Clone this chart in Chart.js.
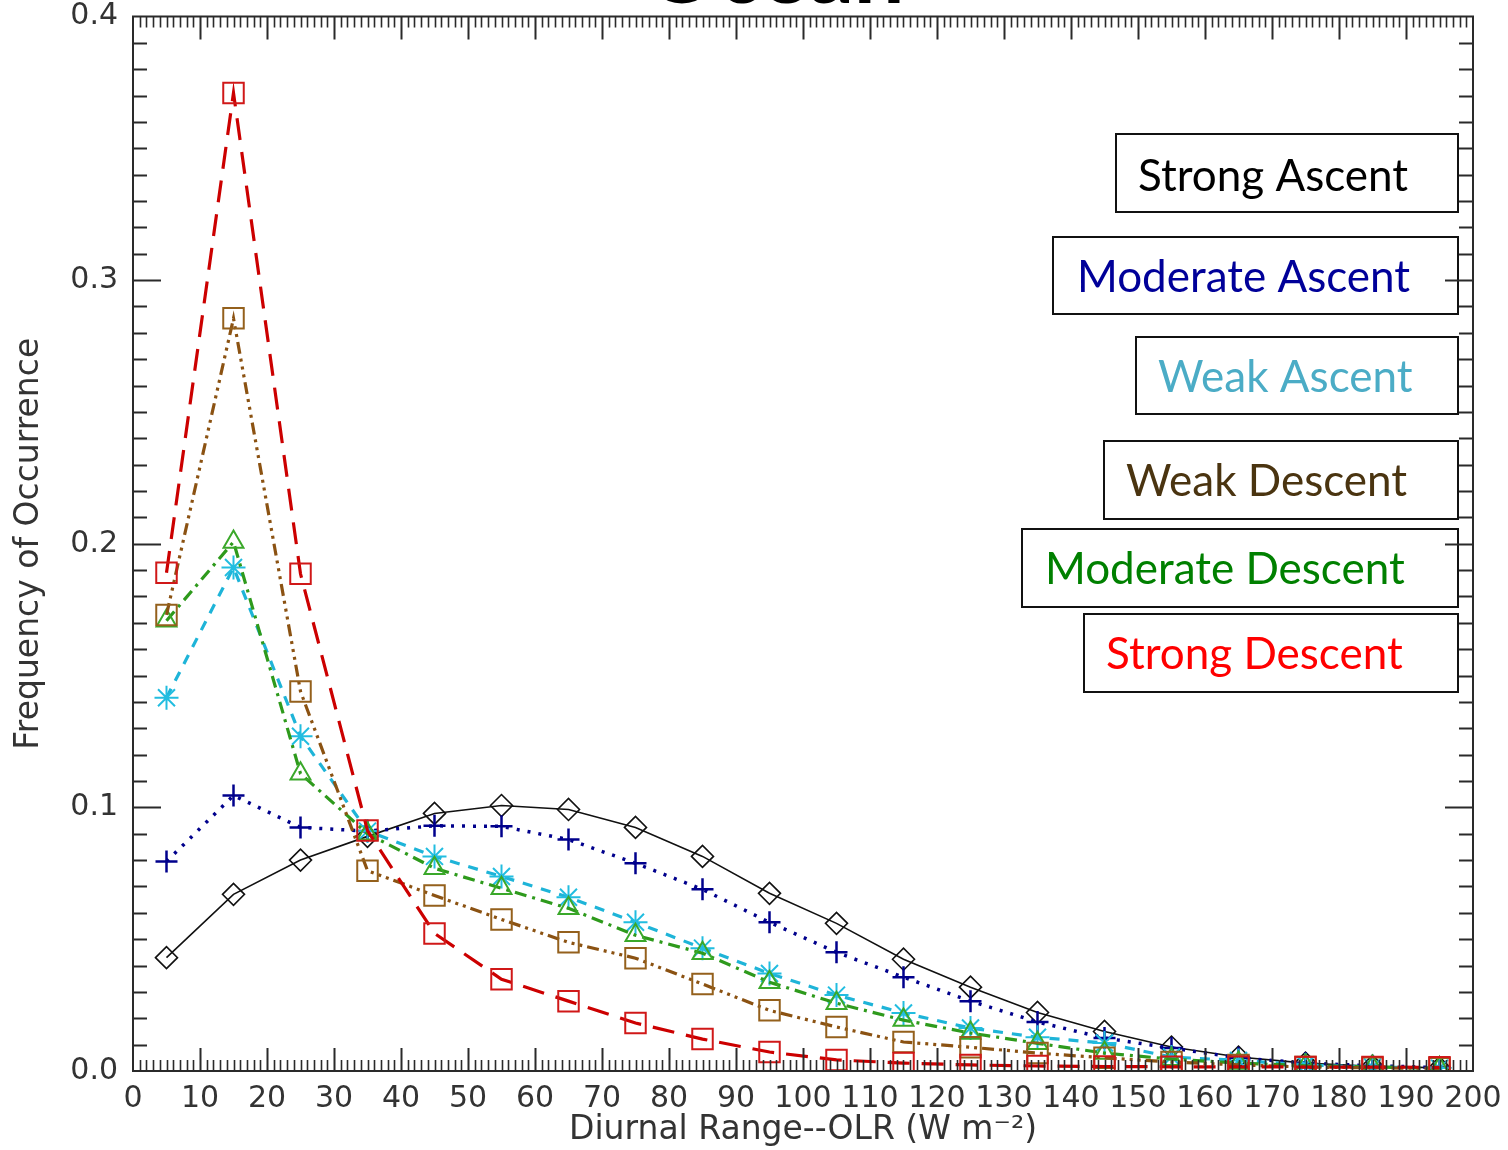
<!DOCTYPE html>
<html>
<head>
<meta charset="utf-8">
<script src="https://cdn.jsdelivr.net/npm/chart.js@4.4.1/dist/chart.umd.min.js"></script>
<style>
  html, body { margin: 0; padding: 0; background: #fff; }
  canvas { display: block; }
</style>
</head>
<body>
<canvas id="c" width="1508" height="1150"></canvas>
<script>
// ---------------- DATA ----------------
const binCenters = [5, 15, 25, 35, 45, 55, 65, 75, 85, 95, 105, 115, 125, 135, 145, 155, 165, 175, 185, 195];

const strongAscent   = [0.0430, 0.0670, 0.0800, 0.0890, 0.0977, 0.1007, 0.0992, 0.0924, 0.0814, 0.0674, 0.0560, 0.0424, 0.0318, 0.0222, 0.0150, 0.0091, 0.0053, 0.0030, 0.0018, 0.0012];
const moderateAscent = [0.0795, 0.1045, 0.0924, 0.0910, 0.0930, 0.0928, 0.0878, 0.0788, 0.0689, 0.0564, 0.0450, 0.0356, 0.0265, 0.0186, 0.0125, 0.0087, 0.0050, 0.0030, 0.0020, 0.0013];
const weakAscent     = [0.1416, 0.1910, 0.1270, 0.0910, 0.0814, 0.0738, 0.0659, 0.0564, 0.0466, 0.0370, 0.0288, 0.0220, 0.0163, 0.0128, 0.0106, 0.0053, 0.0040, 0.0023, 0.0015, 0.0011];
const weakDescent    = [0.1730, 0.2855, 0.1440, 0.0760, 0.0666, 0.0575, 0.0488, 0.0428, 0.0330, 0.0230, 0.0167, 0.0110, 0.0090, 0.0068, 0.0050, 0.0034, 0.0023, 0.0015, 0.0012, 0.0010];
const moderateDescent= [0.1708, 0.2007, 0.1128, 0.0900, 0.0769, 0.0693, 0.0617, 0.0515, 0.0447, 0.0337, 0.0257, 0.0193, 0.0144, 0.0105, 0.0068, 0.0045, 0.0030, 0.0020, 0.0015, 0.0010];
const strongDescent  = [0.1890, 0.3710, 0.1886, 0.0912, 0.0522, 0.0348, 0.0265, 0.0182, 0.0121, 0.0072, 0.0042, 0.0030, 0.0023, 0.0019, 0.0017, 0.0016, 0.0016, 0.0015, 0.0015, 0.0014];

const xTickValues = [0, 10, 20, 30, 40, 50, 60, 70, 80, 90, 100, 110, 120, 130, 140, 150, 160, 170, 180, 190, 200];
const yTickValues = [0.0, 0.1, 0.2, 0.3, 0.4];

const legendLabels = ['Strong Ascent', 'Moderate Ascent', 'Weak Ascent', 'Weak Descent', 'Moderate Descent', 'Strong Descent'];
const chartTitle = 'Ocean';
const xTitle = 'Diurnal Range--OLR (W m\u207B\u00B2)';
const yTitle = 'Frequency of Occurrence';

// ---------------- STYLES ----------------
const legendTextColors = ['#000000', '#000099', '#4bacc6', '#4a3410', '#008000', '#ff0000'];
const legendBoxes = [
  {x0: 1116, y0: 134, x1: 1458, y1: 212, tx: 1138, ty: 191},
  {x0: 1053, y0: 237, x1: 1458, y1: 314, tx: 1077, ty: 292},
  {x0: 1136, y0: 337, x1: 1458, y1: 414, tx: 1158, ty: 392},
  {x0: 1104, y0: 441, x1: 1458, y1: 519, tx: 1126, ty: 496},
  {x0: 1022, y0: 529, x1: 1458, y1: 607, tx: 1045, ty: 584},
  {x0: 1084, y0: 614, x1: 1458, y1: 692, tx: 1106, ty: 669}
];

function pts(arr) { return binCenters.map((x, i) => ({x: x, y: arr[i]})); }

const datasets = [
  { label: 'Strong Descent', data: pts(strongDescent), borderColor: '#cc0000', borderWidth: 3.2,
    borderDash: [22, 12], pointStyle: 'rect', pointRadius: 14.5, pointBorderWidth: 2,
    pointBorderColor: '#d01818', pointBackgroundColor: 'rgba(0,0,0,0)' },
  { label: 'Weak Descent', data: pts(weakDescent), borderColor: '#8b5212', borderWidth: 3.2,
    borderDash: [12, 5, 3, 5, 3, 5, 3, 5], pointStyle: 'rect', pointRadius: 14.5, pointBorderWidth: 2,
    pointBorderColor: '#94601c', pointBackgroundColor: 'rgba(0,0,0,0)' },
  { label: 'Moderate Descent', data: pts(moderateDescent), borderColor: '#2e9a1c', borderWidth: 3.2,
    borderDash: [12, 6, 3, 6], pointStyle: 'triangle', pointRadius: 11.5, pointBorderWidth: 2,
    pointBorderColor: '#3aa82a', pointBackgroundColor: 'rgba(0,0,0,0)' },
  { label: 'Weak Ascent', data: pts(weakAscent), borderColor: '#1eb4d8', borderWidth: 3.2,
    borderDash: [10, 9], pointStyle: 'star', pointRadius: 12, pointBorderWidth: 2,
    pointBorderColor: '#22bde0', pointBackgroundColor: 'rgba(0,0,0,0)' },
  { label: 'Moderate Ascent', data: pts(moderateAscent), borderColor: '#00008c', borderWidth: 3.5,
    borderDash: [3, 8], pointStyle: 'cross', pointRadius: 11, pointBorderWidth: 2.5,
    pointBorderColor: '#00008c', pointBackgroundColor: 'rgba(0,0,0,0)' },
  { label: 'Strong Ascent', data: pts(strongAscent), borderColor: '#111111', borderWidth: 1.6,
    pointStyle: 'rectRot', pointRadius: 11, pointBorderWidth: 1.6,
    pointBorderColor: '#111111', pointBackgroundColor: 'rgba(0,0,0,0)' }
];
datasets.forEach(d => { d.tension = 0; d.fill = false; d.pointHoverRadius = d.pointRadius; });

const AXIS_COLOR = '#2a2a2a';
const LABEL_FONT = "'DejaVu Sans', sans-serif";

const decorPlugin = {
  id: 'decor',
  afterDatasetsDraw(chart) {
    const ctx = chart.ctx;
    ctx.save();
    ctx.font = "44px Lato, 'Open Sans', sans-serif";
    ctx.textBaseline = 'alphabetic';
    ctx.textAlign = 'left';
    legendLabels.forEach((lab, i) => {
      const b = legendBoxes[i];
      ctx.fillStyle = '#ffffff';
      ctx.fillRect(b.x0, b.y0, b.x1 - b.x0, b.y1 - b.y0);
      ctx.lineWidth = 2;
      ctx.strokeStyle = '#111111';
      ctx.strokeRect(b.x0, b.y0, b.x1 - b.x0, b.y1 - b.y0);
      ctx.fillStyle = legendTextColors[i];
      ctx.fillText(lab, b.tx, b.ty);
    });
    ctx.restore();
  },
  afterDraw(chart) {
    const ctx = chart.ctx;
    const a = chart.chartArea;
    const xs = chart.scales.x, ys = chart.scales.y;
    ctx.save();
    ctx.strokeStyle = AXIS_COLOR;
    // frame
    ctx.lineWidth = 2;
    ctx.strokeRect(a.left, a.top, a.right - a.left, a.bottom - a.top);
    // x ticks (inward, top and bottom)
    for (let v = 1; v < 200; v++) {
      const px = Math.round(xs.getPixelForValue(v)) + 0.5;
      const len = (v % 10 === 0) ? 23 : 11;
      ctx.lineWidth = (v % 10 === 0) ? 2 : 1.6;
      ctx.beginPath();
      ctx.moveTo(px, a.bottom); ctx.lineTo(px, a.bottom - len);
      ctx.moveTo(px, a.top); ctx.lineTo(px, a.top + len);
      ctx.stroke();
    }
    // y ticks (inward, left and right)
    for (let k = 1; k < 40; k++) {
      const py = Math.round(ys.getPixelForValue(k / 100)) + 0.5;
      const len = (k % 10 === 0) ? 28 : 14;
      ctx.lineWidth = 2;
      ctx.beginPath();
      ctx.moveTo(a.left, py); ctx.lineTo(a.left + len, py);
      ctx.moveTo(a.right, py); ctx.lineTo(a.right - len, py);
      ctx.stroke();
    }
    // title (cut off at top, as in the original)
    ctx.fillStyle = '#000000';
    ctx.font = "bold 90px Lato, 'Open Sans', sans-serif";
    ctx.textAlign = 'center';
    ctx.textBaseline = 'alphabetic';
    ctx.fillText(chartTitle, 775, 3);
    ctx.restore();
  }
};

new Chart(document.getElementById('c'), {
  type: 'line',
  data: { datasets: datasets },
  options: {
    responsive: false,
    devicePixelRatio: 1,
    animation: false,
    events: [],
    layout: { padding: { top: 15, right: 35, left: 0, bottom: 0 } },
    plugins: { legend: { display: false }, tooltip: { enabled: false }, title: { display: false } },
    scales: {
      x: {
        type: 'linear', min: 0, max: 200,
        afterFit: s => { s.height = 79; s.paddingLeft = 0; s.paddingRight = 0; },
        afterBuildTicks: s => { s.ticks = xTickValues.map(v => ({value: v})); },
        grid: { display: false, drawTicks: false },
        border: { display: false },
        ticks: { autoSkip: false, maxRotation: 0, minRotation: 0, padding: 10,
                 color: '#333333', font: { family: LABEL_FONT, size: 30 },
                 callback: v => String(v) },
        title: { display: true, text: xTitle, color: '#333333',
                 font: { family: LABEL_FONT, size: 33 }, padding: { top: 0, bottom: 0 } }
      },
      y: {
        type: 'linear', min: 0, max: 0.4,
        afterFit: s => { s.width = 133; s.paddingTop = 0; s.paddingBottom = 0; },
        afterBuildTicks: s => { s.ticks = yTickValues.map(v => ({value: v})); },
        grid: { display: false, drawTicks: false },
        border: { display: false },
        ticks: { padding: 15, color: '#333333', font: { family: LABEL_FONT, size: 30 },
                 callback: v => Number(v).toFixed(1) },
        title: { display: true, text: yTitle, color: '#333333',
                 font: { family: LABEL_FONT, size: 33 }, padding: { top: 10, bottom: 0 } }
      }
    }
  },
  plugins: [decorPlugin]
});
</script>
</body>
</html>
